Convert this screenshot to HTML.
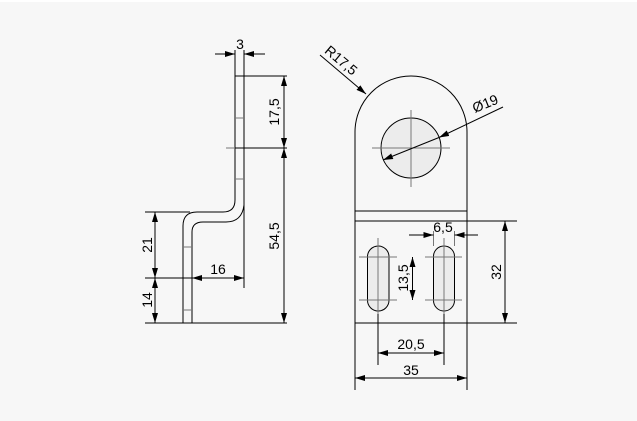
<!DOCTYPE html>
<html><head><meta charset="utf-8"><style>
html,body{margin:0;padding:0;background:#f7f7f7;}
svg{display:block}
text{font-family:"Liberation Sans",sans-serif;font-size:14px;fill:#000}
</style></head><body>
<svg width="637" height="421" viewBox="0 0 637 421" xmlns="http://www.w3.org/2000/svg">
<defs>
<marker id="a" viewBox="0 0 10 6" refX="10" refY="3" markerWidth="10" markerHeight="6" orient="auto-start-reverse" markerUnits="userSpaceOnUse">
<path d="M0,0 L10,3 L0,6 z" fill="#000"/></marker>
</defs>
<rect x="0" y="0" width="637" height="2" fill="#fff"/>
<g stroke="#000" stroke-width="1" fill="none">
<path d="M235,76 L235,200 Q235,212 223,212 L197,212 Q183,212 183,226 L183,323"/>
<path d="M244,76 L244,205 Q242,222 226,222 L203,222 Q192,222 192,232 L192,323"/>
<line x1="235" y1="76" x2="244" y2="76"/>
<line x1="183" y1="323" x2="192" y2="323"/>
<g stroke="#777"><line x1="235" y1="118" x2="244" y2="118"/><line x1="235" y1="179" x2="244" y2="179"/>
<line x1="183" y1="247" x2="192" y2="247"/><line x1="183" y1="310" x2="192" y2="310"/>
<line x1="226" y1="148" x2="235" y2="148"/></g>
<line x1="235" y1="50" x2="235" y2="76"/><line x1="244" y1="50" x2="244" y2="76"/>
<line x1="215" y1="54" x2="235" y2="54" marker-end="url(#a)"/>
<line x1="265" y1="54" x2="244" y2="54" marker-end="url(#a)"/>
<line x1="244" y1="76" x2="287" y2="76"/>
<line x1="235" y1="148" x2="287" y2="148"/>
<line x1="284" y1="76" x2="284" y2="148" marker-start="url(#a)" marker-end="url(#a)"/>
<line x1="284" y1="148" x2="284" y2="323" marker-start="url(#a)" marker-end="url(#a)"/>
<line x1="145" y1="323" x2="287" y2="323"/>
<line x1="244" y1="205" x2="244" y2="288"/>
<line x1="145" y1="212" x2="190" y2="212"/>
<line x1="145" y1="278" x2="244" y2="278"/>
<line x1="155" y1="212" x2="155" y2="278" marker-start="url(#a)" marker-end="url(#a)"/>
<line x1="155" y1="278" x2="155" y2="323" marker-start="url(#a)" marker-end="url(#a)"/>
<line x1="192" y1="278" x2="244" y2="278" marker-start="url(#a)" marker-end="url(#a)"/>
<path d="M355,323 L355,132 A56,56 0 0 1 467,132 L467,323 Z"/>
<line x1="355" y1="211" x2="467" y2="211"/>
<line x1="355" y1="221" x2="467" y2="221"/>
<circle cx="411" cy="148" r="30" fill="#ececec"/>
<g stroke="#777"><line x1="372" y1="148" x2="450" y2="148"/><line x1="411" y1="110" x2="411" y2="187"/></g>
<rect x="367.5" y="246" width="21.5" height="65" rx="10.75" fill="#ececec"/>
<rect x="433.5" y="246" width="21" height="65" rx="10.5" fill="#ececec"/>
<g stroke="#777">
<line x1="359" y1="257" x2="397" y2="257"/><line x1="359" y1="300" x2="397" y2="300"/>
<line x1="425" y1="257" x2="462" y2="257"/><line x1="425" y1="300" x2="462" y2="300"/>
<line x1="378" y1="238" x2="378" y2="314"/><line x1="444" y1="238" x2="444" y2="314"/>
<line x1="433.5" y1="231" x2="433.5" y2="246"/><line x1="454.5" y1="231" x2="454.5" y2="246"/>
</g>
<line x1="378" y1="314" x2="378" y2="365"/><line x1="444" y1="314" x2="444" y2="365"/>
<line x1="412.5" y1="257" x2="412.5" y2="300" marker-start="url(#a)" marker-end="url(#a)"/>
<line x1="409" y1="235" x2="433.5" y2="235" marker-end="url(#a)"/>
<line x1="478" y1="235" x2="454.5" y2="235" marker-end="url(#a)"/>
<line x1="467" y1="221" x2="517" y2="221"/><line x1="467" y1="323" x2="517" y2="323"/>
<line x1="505" y1="221" x2="505" y2="323" marker-start="url(#a)" marker-end="url(#a)"/>
<line x1="378" y1="353" x2="444" y2="353" marker-start="url(#a)" marker-end="url(#a)"/>
<line x1="355" y1="323" x2="355" y2="390"/><line x1="467" y1="323" x2="467" y2="390"/>
<line x1="355" y1="378" x2="467" y2="378" marker-start="url(#a)" marker-end="url(#a)"/>
<line x1="320" y1="55" x2="366" y2="94" marker-end="url(#a)"/>
<line x1="503" y1="107" x2="439" y2="137.5" marker-end="url(#a)"/>
<line x1="439" y1="137.5" x2="383" y2="160" marker-end="url(#a)"/>
</g>
<text x="240" y="49" text-anchor="middle">3</text>
<text transform="translate(279,112) rotate(-90)" text-anchor="middle">17,5</text>
<text transform="translate(279,236) rotate(-90)" text-anchor="middle">54,5</text>
<text transform="translate(152,245) rotate(-90)" text-anchor="middle">21</text>
<text transform="translate(152,300) rotate(-90)" text-anchor="middle">14</text>
<text x="218" y="274" text-anchor="middle">16</text>
<text transform="translate(338,64) rotate(40)" text-anchor="middle">R17,5</text>
<text transform="translate(487,108) rotate(-22)" text-anchor="middle">Ø19</text>
<text transform="translate(408,278) rotate(-90)" text-anchor="middle">13,5</text>
<text x="443" y="232" text-anchor="middle">6,5</text>
<text transform="translate(501,272) rotate(-90)" text-anchor="middle">32</text>
<text x="411" y="349" text-anchor="middle">20,5</text>
<text x="411" y="375" text-anchor="middle">35</text>
</svg>
</body></html>
